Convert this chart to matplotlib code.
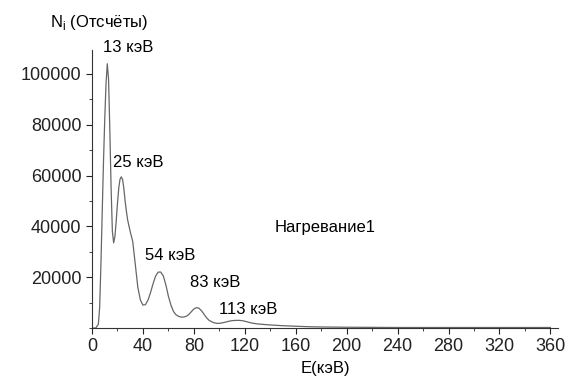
import numpy as np
import matplotlib.pyplot as plt
from matplotlib.ticker import MultipleLocator

plt.rcParams['font.family'] = ['Liberation Sans', 'DejaVu Sans']

# spectrum (energy in keV, counts)
energy = [0, 3, 5, 6, 7, 8, 9, 10, 11, 12, 13, 14, 15, 16, 17, 18, 19, 20, 21, 22,
          23, 24, 25, 26, 27, 28, 30, 32, 34, 36, 38, 40, 42, 44, 46, 48, 50, 52, 54,
          56, 58, 60, 62, 64, 66, 68, 70, 72, 74, 76, 78, 80, 82, 84, 86, 88, 90, 92,
          95, 98, 101, 104, 107, 110, 113, 116, 119, 122, 125, 130, 135, 140, 150,
          160, 170, 180, 200, 220, 240, 260, 280, 300, 320, 340, 360]
counts = [0, 0, 1500, 8000, 25000, 45000, 65000, 82000, 96000, 104000, 98000, 78000,
          55000, 38000, 33500, 36000, 42000, 49000, 55000, 58500, 59500, 58500, 55000,
          50000, 46000, 42500, 38000, 34000, 25000, 16000, 11000, 9000, 9200, 11000,
          14000, 17500, 20500, 22000, 22000, 20500, 17000, 12500, 9000, 6500, 5200,
          4600, 4300, 4300, 4600, 5300, 6400, 7500, 8000, 7800, 6800, 5400, 4000, 3000,
          2200, 1800, 1900, 2200, 2600, 2900, 3000, 3000, 2800, 2400, 2000, 1600, 1400,
          1200, 900, 700, 500, 400, 300, 250, 200, 200, 200, 200, 200, 200, 200]

peak_labels = ['13 кэВ', '25 кэВ', '54 кэВ', '83 кэВ', '113 кэВ']
label_pos = [(8.6, 110200), (16.5, 65000), (41.5, 28700), (77, 18100), (100, 7100)]

fig = plt.figure(figsize=(5.84, 3.79), dpi=100)
ax = fig.add_axes([92 / 584, 51 / 379, 466 / 584, 278 / 379])

ax.plot(energy, counts, color='#666666', lw=0.9)

ax.set_xlim(0, 366)
ax.set_ylim(0, 109400)
ax.xaxis.set_major_locator(MultipleLocator(40))
ax.xaxis.set_minor_locator(MultipleLocator(20))
ax.yaxis.set_minor_locator(MultipleLocator(10000))
ax.set_yticks([20000, 40000, 60000, 80000, 100000])

for s in ['top', 'right']:
    ax.spines[s].set_visible(False)
for s in ['left', 'bottom']:
    ax.spines[s].set_color('#333333')
    ax.spines[s].set_linewidth(0.8)
ax.tick_params(which='major', length=4, width=0.8, labelsize=13, colors='#222222')
ax.tick_params(which='minor', length=2, width=0.6, colors='#222222')
ax.set_xlabel('E(кэВ)', fontsize=12, labelpad=4)

for txt, (x, y) in zip(peak_labels, label_pos):
    ax.text(x, y, txt, fontsize=12, va='center', ha='left', clip_on=False)
ax.text(143.5, 39400, 'Нагревание1', fontsize=12, va='center', ha='left')

fig.text(50 / 584, 1 - 22 / 379, r'N$_\mathregular{i}$ (Отсчёты)', fontsize=12, va='center')

fig.savefig('out.png', dpi=100, facecolor='white')
